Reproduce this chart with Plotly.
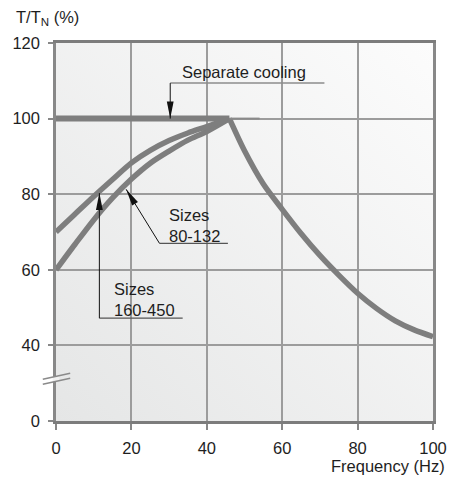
import base64
import math
import plotly.graph_objects as go

# ---- data -------------------------------------------------------------
freq_cooling = [0, 46]
torque_cooling = [100, 100]

freq_self = [0, 5, 10, 15, 20, 25, 30, 35, 40, 46]
sizes_80_132 = [60, 66.7, 73.2, 79.0, 84.0, 88.2, 91.4, 94.3, 96.6, 100]
sizes_160_450 = [70, 74.7, 79.4, 83.9, 88.3, 91.6, 94.2, 96.2, 97.9, 100]

freq_weak = [46, 50, 55, 60, 65, 70, 75, 80, 85, 90, 95, 100]
torque_weak = [100, 91.5, 82.7, 76.0, 69.6, 63.8, 58.6, 53.8, 49.8, 46.5, 44.1, 42.3]

x_ticks = [0, 20, 40, 60, 80, 100]
y_tick_pos = [20, 40, 60, 80, 100, 120]     # axis is broken between 0 and 40
y_tick_text = ["0", "40", "60", "80", "100", "120"]

# ---- layout geometry --------------------------------------------------
W, H = 450, 479
ML, MR, MT, MB = 56, 17, 43, 58
X_RANGE = [0, 100]
Y_RANGE = [20, 120]
X_PX = (W - ML - MR) / (X_RANGE[1] - X_RANGE[0])
Y_PX = (H - MT - MB) / (Y_RANGE[1] - Y_RANGE[0])

FONT = "Liberation Sans, Arial, sans-serif"
FS = 16.5
TXT = "#1e1e1e"
CURVE = "#7e7e7e"
GRID = "#9c9c9c"

fig = go.Figure()

curve_style = dict(color=CURVE, width=5.5, shape="spline", smoothing=0.8)
fig.add_trace(go.Scatter(x=freq_self, y=sizes_80_132, mode="lines",
                         line=curve_style, hoverinfo="skip"))
fig.add_trace(go.Scatter(x=freq_self, y=sizes_160_450, mode="lines",
                         line=curve_style, hoverinfo="skip"))
fig.add_trace(go.Scatter(x=freq_cooling, y=torque_cooling, mode="lines",
                         line=dict(color=CURVE, width=6), hoverinfo="skip"))
fig.add_trace(go.Scatter(x=freq_weak, y=torque_weak, mode="lines",
                         line=curve_style, hoverinfo="skip"))

shapes = []
annotations = []


def leader(x0, y0, x1, y1, color="#111111", width=1):
    shapes.append(dict(type="line", xref="x", yref="y", x0=x0, y0=y0,
                       x1=x1, y1=y1, line=dict(color=color, width=width),
                       layer="above"))


def arrow_head(tip_x, tip_y, tail_x, tail_y, length=17, half=3.4):
    dx = (tail_x - tip_x) * X_PX
    dy = (tail_y - tip_y) * Y_PX
    n = math.hypot(dx, dy)
    ux, uy = dx / n, dy / n
    bx, by = ux * length, uy * length
    px, py = -uy * half, ux * half
    path = (f"M0,0 L{bx + px:.2f},{by + py:.2f} "
            f"L{bx - px:.2f},{by - py:.2f} Z")
    shapes.append(dict(type="path", path=path, xref="x", yref="y",
                       xsizemode="pixel", ysizemode="pixel",
                       xanchor=tip_x, yanchor=tip_y,
                       fillcolor="#111111", line=dict(width=0),
                       layer="above"))


def label(x, y, text):
    annotations.append(dict(x=x, y=y, xref="x", yref="y", text=text,
                            showarrow=False, xanchor="left", yanchor="middle",
                            align="left",
                            font=dict(family=FONT, size=FS, color=TXT)))


# short stub of the constant-torque line beyond the corner frequency
leader(46, 100, 54, 100, color="#8a8a8a", width=2)

# "Separate cooling" callout
label(32.9, 112.4, "Separate cooling")
leader(30.3, 109.4, 71.2, 109.4, color="#8c8c8c", width=1.5)
leader(30.3, 109.4, 30.3, 100)
arrow_head(30.3, 100, 30.3, 109.4)

# "Sizes 80-132" callout
label(29.4, 71.6, "Sizes<br>80-132")
leader(27.45, 67.0, 45.6, 67.0, color="#555555", width=1.2)
leader(27.45, 67.0, 18.6, 81.3)
arrow_head(18.6, 81.3, 27.45, 67.0)

# "Sizes 160-450" callout
label(14.8, 52.1, "Sizes<br>160-450")
leader(11.5, 47.2, 33.6, 47.2, color="#555555", width=1.2)
leader(11.5, 47.2, 11.5, 80.3)
arrow_head(11.5, 80.3, 11.5, 47.2)

# axis break marks on the y axis
bx0, bx1 = -0.035, 0.0377
brk_a = (31.04, 32.63)
brk_b = (29.72, 31.30)


def lerp(p, t):
    return p[0] + (p[1] - p[0]) * (t - bx0) / (bx1 - bx0)


gx0, gx1 = -0.009, 0.009
shapes.append(dict(type="path", xref="paper", yref="y",
                   path=(f"M{gx0},{lerp(brk_b, gx0):.3f} L{gx0},{lerp(brk_a, gx0):.3f} "
                         f"L{gx1},{lerp(brk_a, gx1):.3f} L{gx1},{lerp(brk_b, gx1):.3f} Z"),
                   fillcolor="#f1f1f1", line=dict(width=0), layer="above"))
for a, b in (brk_a, brk_b):
    shapes.append(dict(type="line", xref="paper", yref="y", x0=bx0, y0=a,
                       x1=bx1, y1=b, line=dict(color="#8a8a8a", width=1.5),
                       layer="above"))

# axis titles
annotations.append(dict(x=-0.111, y=1.066, xref="paper", yref="paper",
                        text="T/T<sub>N</sub> (%)", showarrow=False,
                        xanchor="left", yanchor="middle",
                        font=dict(family=FONT, size=FS, color=TXT)))
annotations.append(dict(x=1.037, y=-0.119, xref="paper", yref="paper",
                        text="Frequency (Hz)", showarrow=False,
                        xanchor="right", yanchor="middle",
                        font=dict(family=FONT, size=FS, color=TXT)))

# soft diagonal shading of the plotting area
svg = ('<svg xmlns="http://www.w3.org/2000/svg" width="100" height="100" '
       'viewBox="0 0 100 100" preserveAspectRatio="none">'
       '<defs><linearGradient id="g" x1="0" y1="1" x2="1" y2="0">'
       '<stop offset="0" stop-color="#e5e6e6"/>'
       '<stop offset="1" stop-color="#fcfcfc"/></linearGradient></defs>'
       '<rect width="100" height="100" fill="url(#g)"/></svg>')
bg_src = "data:image/svg+xml;base64," + base64.b64encode(svg.encode()).decode()

fig.update_layout(
    width=W, height=H,
    margin=dict(l=ML, r=MR, t=MT, b=MB, autoexpand=False),
    paper_bgcolor="white",
    plot_bgcolor="rgba(0,0,0,0)",
    showlegend=False,
    font=dict(family=FONT, size=FS, color=TXT),
    shapes=shapes,
    annotations=annotations,
    images=[dict(source=bg_src, xref="paper", yref="paper", x=0, y=1,
                 sizex=1, sizey=1, sizing="stretch", layer="below")],
)
fig.update_xaxes(range=X_RANGE, tickvals=x_ticks, showgrid=True,
                 gridcolor=GRID, gridwidth=2, zeroline=False, automargin=False,
                 showline=True, linecolor="#7c7c7c", linewidth=3, mirror=True,
                 ticks="outside", ticklen=6, tickwidth=2, tickcolor="#888888",
                 ticklabelstandoff=4,
                 tickfont=dict(family=FONT, size=FS, color=TXT))
fig.update_yaxes(range=Y_RANGE, tickvals=y_tick_pos, ticktext=y_tick_text,
                 showgrid=True, gridcolor=GRID, gridwidth=2, zeroline=False,
                 automargin=False,
                 showline=True, linecolor="#888888", linewidth=2.5, mirror=True,
                 ticks="outside", ticklen=5, tickwidth=2, tickcolor="#888888",
                 ticklabelstandoff=5,
                 tickfont=dict(family=FONT, size=FS, color=TXT))

fig.write_html("out.html")
